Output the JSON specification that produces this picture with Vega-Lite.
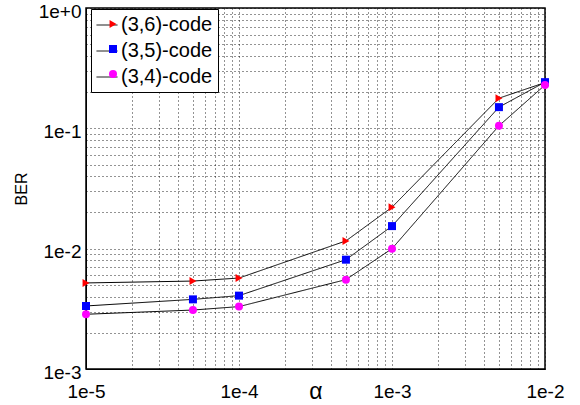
{
  "$schema": "https://vega.github.io/schema/vega-lite/v6.json",
  "width": 459,
  "height": 361,
  "autosize": "none",
  "padding": {"left": 86, "top": 8, "right": 35, "bottom": 36},
  "background": "white",
  "config": {
    "font": "Liberation Sans",
    "view": {"stroke": "black", "strokeWidth": 1.5}
  },
  "data": {
    "values": [
      {"alpha": 0.00001, "BER": 0.00519, "code": "(3,6)-code"},
      {"alpha": 0.00005, "BER": 0.00538, "code": "(3,6)-code"},
      {"alpha": 0.0001, "BER": 0.0057, "code": "(3,6)-code"},
      {"alpha": 0.0005, "BER": 0.0116, "code": "(3,6)-code"},
      {"alpha": 0.001, "BER": 0.0221, "code": "(3,6)-code"},
      {"alpha": 0.005, "BER": 0.178, "code": "(3,6)-code"},
      {"alpha": 0.01, "BER": 0.24, "code": "(3,6)-code"},
      {"alpha": 0.00001, "BER": 0.00334, "code": "(3,5)-code"},
      {"alpha": 0.00005, "BER": 0.00379, "code": "(3,5)-code"},
      {"alpha": 0.0001, "BER": 0.00407, "code": "(3,5)-code"},
      {"alpha": 0.0005, "BER": 0.0081, "code": "(3,5)-code"},
      {"alpha": 0.001, "BER": 0.0154, "code": "(3,5)-code"},
      {"alpha": 0.005, "BER": 0.15, "code": "(3,5)-code"},
      {"alpha": 0.01, "BER": 0.242, "code": "(3,5)-code"},
      {"alpha": 0.00001, "BER": 0.00285, "code": "(3,4)-code"},
      {"alpha": 0.00005, "BER": 0.00309, "code": "(3,4)-code"},
      {"alpha": 0.0001, "BER": 0.0033, "code": "(3,4)-code"},
      {"alpha": 0.0005, "BER": 0.00553, "code": "(3,4)-code"},
      {"alpha": 0.001, "BER": 0.01, "code": "(3,4)-code"},
      {"alpha": 0.005, "BER": 0.105, "code": "(3,4)-code"},
      {"alpha": 0.01, "BER": 0.229, "code": "(3,4)-code"}
    ]
  },
  "encoding": {
    "x": {
      "field": "alpha",
      "type": "quantitative",
      "scale": {"type": "log", "domain": [0.00001, 0.01], "nice": false},
      "axis": {
        "title": "α",
        "titleFontSize": 23,
        "titleFontWeight": "normal",
        "titlePadding": -21,
        "values": [0.00001, 0.00002, 0.00003, 0.00004, 0.00005, 0.00006, 0.00007, 0.00008, 0.00009,
                   0.0001, 0.0002, 0.0003, 0.0004, 0.0005, 0.0006, 0.0007, 0.0008, 0.0009,
                   0.001, 0.002, 0.003, 0.004, 0.005, 0.006, 0.007, 0.008, 0.009, 0.01],
        "labelExpr": "abs(log(datum.value)/LN10 - round(log(datum.value)/LN10)) < 0.001 ? '1e' + round(log(datum.value)/LN10) : ''",
        "labelOverlap": false,
        "labelFlush": false,
        "labelFontSize": 19,
        "labelColor": "black",
        "labelPadding": 13,
        "ticks": false,
        "domainColor": "black",
        "grid": true,
        "gridColor": "black",
        "gridDash": [1, 3],
        "gridOpacity": 0.85
      }
    },
    "y": {
      "field": "BER",
      "type": "quantitative",
      "scale": {"type": "log", "domain": [0.001, 1], "nice": false},
      "axis": {
        "title": "BER",
        "titleFontSize": 16,
        "titleFontWeight": "normal",
        "titlePadding": 9,
        "values": [0.001, 0.002, 0.003, 0.004, 0.005, 0.006, 0.007, 0.008, 0.009,
                   0.01, 0.02, 0.03, 0.04, 0.05, 0.06, 0.07, 0.08, 0.09,
                   0.1, 0.2, 0.3, 0.4, 0.5, 0.6, 0.7, 0.8, 0.9, 1],
        "labelExpr": "abs(log(datum.value)/LN10 - round(log(datum.value)/LN10)) < 0.001 ? (round(log(datum.value)/LN10) == 0 ? '1e+0' : '1e' + round(log(datum.value)/LN10)) : ''",
        "labelOverlap": false,
        "labelFlush": false,
        "labelFontSize": 19,
        "labelColor": "black",
        "labelPadding": 5,
        "labelOffset": 3,
        "ticks": false,
        "domainColor": "black",
        "grid": true,
        "gridColor": "black",
        "gridDash": [1, 3],
        "gridOpacity": 0.85
      }
    }
  },
  "layer": [
    {
      "mark": {"type": "line", "color": "black", "strokeWidth": 1},
      "encoding": {
        "strokeDash": {
          "field": "code",
          "type": "nominal",
          "sort": "descending",
          "scale": {"range": [[1, 0], [1, 0], [1, 0]]},
          "legend": {
            "title": null,
            "orient": "none",
            "legendX": 5,
            "legendY": 1,
            "zindex": 1,
            "labelFontSize": 20,
            "labelColor": "black",
            "labelOffset": 3,
            "strokeColor": "black",
            "fillColor": "white",
            "padding": 5,
            "rowPadding": 5,
            "symbolType": "stroke",
            "symbolSize": 441,
            "symbolStrokeColor": "black",
            "symbolStrokeWidth": 1,
            "symbolDash": [1, 0]
          }
        }
      }
    },
    {
      "mark": {"type": "point", "filled": true, "size": 64, "opacity": 1},
      "encoding": {
        "color": {
          "field": "code",
          "type": "nominal",
          "scale": {"domain": ["(3,6)-code", "(3,5)-code", "(3,4)-code"], "range": ["#ff0000", "#0000ff", "#ff00ff"]},
          "legend": {
            "title": null,
            "orient": "none",
            "legendX": 5,
            "legendY": 1,
            "zindex": 2,
            "labelFontSize": 20,
            "labelExpr": "' '",
            "labelOffset": 3,
            "padding": 5,
            "rowPadding": 5,
            "symbolSize": 64,
            "symbolStrokeWidth": 0,
            "symbolOpacity": 1,
            "symbolOffset": 7
          }
        },
        "shape": {
          "field": "code",
          "type": "nominal",
          "scale": {"domain": ["(3,6)-code", "(3,5)-code", "(3,4)-code"], "range": ["triangle-right", "square", "circle"]},
          "legend": null
        }
      }
    }
  ]
}
